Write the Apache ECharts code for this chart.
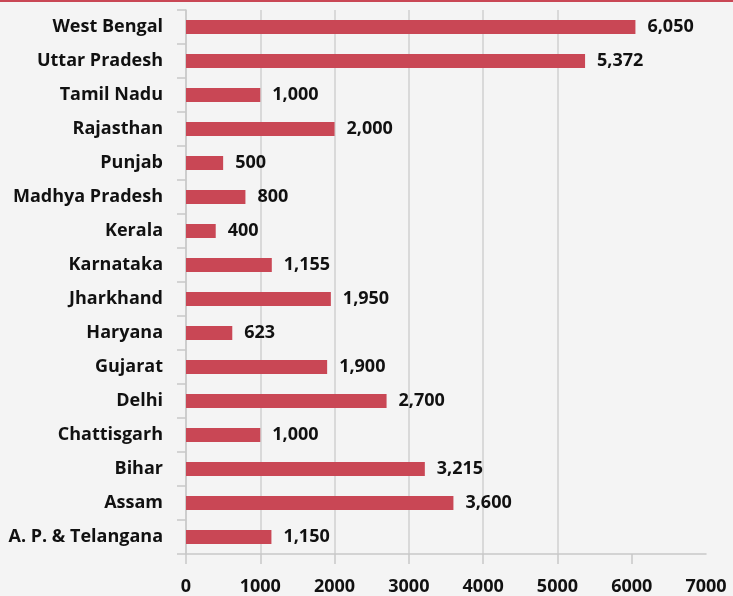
<!DOCTYPE html>
<html>
<head>
<meta charset="utf-8">
<script src="https://cdn.jsdelivr.net/npm/echarts@6/dist/echarts.min.js"></script>
<style>
html,body{margin:0;padding:0;background:#f4f4f4;}
#top{height:2px;background:#c94755;}
#c{width:733px;height:594px;}
</style>
</head>
<body>
<div id="top"></div>
<div id="c"></div>
<script>
const categories = ["A. P. & Telangana","Assam","Bihar","Chattisgarh","Delhi","Gujarat","Haryana","Jharkhand","Karnataka","Kerala","Madhya Pradesh","Punjab","Rajasthan","Tamil Nadu","Uttar Pradesh","West Bengal"];
const values = [1150,3600,3215,1000,2700,1900,623,1950,1155,400,800,500,2000,1000,5372,6050];
const xTicks = [0,1000,2000,3000,4000,5000,6000,7000];

const chart = echarts.init(document.getElementById('c'));
const font = '"Open Sans", Lato, sans-serif';
chart.setOption({
  backgroundColor: '#f4f4f4',
  animation: false,
  grid: {left: 186, right: 27, top: 8, bottom: 42},
  xAxis: {
    type: 'value', min: xTicks[0], max: xTicks[xTicks.length-1], interval: 1000,
    axisLine: {show: true, lineStyle: {color: '#c8c8c8', width: 1.5}},
    axisTick: {show: true, length: 10, customValues: xTicks.slice(0, -1), lineStyle: {color: '#c8c8c8', width: 1.5}},
    splitLine: {show: true, showMaxLine: false, lineStyle: {color: '#d0d0d0', width: 1.5}},
    axisLabel: {color: '#111', fontFamily: font, fontWeight: 'bold', fontSize: 18, margin: 24,
      customValues: xTicks, formatter: v => String(v)}
  },
  yAxis: {
    type: 'category', data: categories,
    axisLine: {show: true, lineStyle: {color: '#c8c8c8', width: 1.5}},
    axisTick: {show: true, length: 9, lineStyle: {color: '#c8c8c8', width: 1.5}},
    axisLabel: {color: '#111', fontFamily: font, fontWeight: 'bold', fontSize: 18, margin: 23, padding: [3, 0, 0, 0]}
  },
  series: [{
    type: 'bar', data: values, barWidth: 14,
    itemStyle: {color: '#c94755'},
    label: {
      show: true, position: 'right', distance: 12, padding: [3, 0, 0, 0],
      color: '#111', fontFamily: font, fontWeight: 'bold', fontSize: 18,
      formatter: p => p.value.toLocaleString('en-US')
    }
  }]
});
</script>
</body>
</html>
